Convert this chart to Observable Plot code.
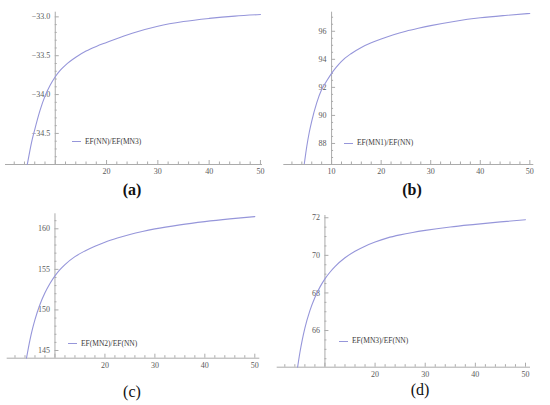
<!DOCTYPE html>
<html><head><meta charset="utf-8">
<script src="https://cdn.jsdelivr.net/npm/d3@7"></script>
<script src="https://cdn.jsdelivr.net/npm/@observablehq/plot@0.6"></script>
<style>
body{margin:0;background:#fff;}
#fig{position:relative;width:550px;height:405px;overflow:hidden;background:#fff;}
.cell{position:absolute;width:275px;height:202px;}
.cell svg{position:absolute;left:0;top:0;}
.cap{position:absolute;font-family:"Liberation Serif","Times New Roman","DejaVu Serif",serif;font-size:16px;color:#111;transform:translate(-50%,-50%);line-height:1;white-space:nowrap;}
.legline{position:absolute;width:9px;height:0;border-top:1px solid #9696da;}
.legtxt{position:absolute;font-family:"Liberation Serif","Times New Roman","DejaVu Serif",serif;font-size:7.5px;color:#3a3a3a;transform:translateY(-50%);line-height:1;white-space:nowrap;}
</style></head>
<body><div id="fig"></div>
<script>
// ---- data ----
const seriesNames = ["EF(NN)/EF(MN3)", "EF(MN1)/EF(NN)", "EF(MN2)/EF(NN)", "EF(MN3)/EF(NN)"];
const panelLabels = ["(a)", "(b)", "(c)", "(d)"];

const xA = [4.55, 5, 5.5, 6, 7, 8, 9, 10, 11, 12, 14, 16, 18, 20, 25, 30, 35, 40, 45, 50];
const yA = [-34.90, -34.74, -34.58, -34.45, -34.21, -34.02, -33.88, -33.77, -33.685, -33.62, -33.52, -33.44, -33.38, -33.33, -33.21, -33.12, -33.06, -33.02, -32.99, -32.97];

const xB = [4.5, 5, 5.5, 6, 7, 8, 9, 10, 11, 12, 14, 16, 18, 20, 22.5, 25, 27.5, 30, 35, 40, 45, 50];
const yB = [86.55, 87.8, 88.8, 89.6, 90.9, 91.85, 92.45, 93.0, 93.46, 93.86, 94.42, 94.85, 95.18, 95.45, 95.75, 96.0, 96.21, 96.40, 96.72, 96.96, 97.13, 97.27];

const xC = [4.3, 5, 5.5, 6, 7, 8, 9, 10, 11, 12, 14, 16, 18, 20, 22.5, 25, 27.5, 30, 35, 40, 45, 50];
const yC = [144.05, 146.32, 147.66, 148.81, 150.67, 152.11, 153.26, 154.2, 154.96, 155.59, 156.57, 157.27, 157.85, 158.35, 158.86, 159.30, 159.67, 159.99, 160.49, 160.89, 161.22, 161.5];

const xD = [4.55, 5, 5.5, 6, 7, 8, 9, 10, 11, 12, 14, 16, 18, 20, 22.5, 25, 27.5, 30, 35, 40, 45, 50];
const yD = [64.05, 64.82, 65.53, 66.13, 67.06, 67.76, 68.31, 68.75, 69.10, 69.40, 69.87, 70.22, 70.49, 70.71, 70.93, 71.09, 71.22, 71.33, 71.51, 71.65, 71.78, 71.89];

const yTicksA = [-34.5, -34.0, -33.5, -33.0];
const yTickLabelsA = ["\u221234.5", "\u221234.0", "\u221233.5", "\u221233.0"];
const yTicksB = [88, 90, 92, 94, 96];
const yTickLabelsB = ["88", "90", "92", "94", "96"];
const yTicksC = [145, 150, 155, 160];
const yTickLabelsC = ["145", "150", "155", "160"];
const yTicksD = [66, 68, 70, 72];
const yTickLabelsD = ["66", "68", "70", "72"];

const xTicksA = [20, 30, 40, 50];
const xTicksB = [10, 20, 30, 40, 50];
const xTicksC = [20, 30, 40, 50];
const xTicksD = [20, 30, 40, 50];

// ---- layout / style ----
const lineColor = "#9696da";
const axisColor = "#ababab";
const labelColor = "#5a5a5a";

const panels = [
  {left:0, top:0, h:180, mt:11.7, mb:16, ml:5, mr:13, xd:[0.3,50.4], yd:[-34.90,-32.94],
   x:xA, y:yA, yt:yTicksA, ytl:yTickLabelsA, xt:xTicksA, yMinorStep:0.1,
   leg:[72,141], cap:[132,190], bold:true},
  {left:275, top:0, h:180, mt:11.7, mb:16, ml:8.3, mr:16.7, xd:[0.36,50.8], yd:[86.50,97.36],
   x:xB, y:yB, yt:yTicksB, ytl:yTickLabelsB, xt:xTicksB, yMinorStep:0.5,
   leg:[69,142.5], cap:[137,190], bold:true},
  {left:0, top:200, h:175, mt:13.3, mb:17.3, ml:6.7, mr:15.7, xd:[0.44,51.0], yd:[144.05,161.85],
   x:xC, y:yC, yt:yTicksC, ytl:yTickLabelsC, xt:xTicksC, yMinorStep:1,
   leg:[68,143], cap:[132,191.5], bold:false},
  {left:275, top:200, h:183, mt:15, mb:16.3, ml:1.7, mr:20, xd:[0.48,51.0], yd:[64.05,72.12],
   x:xD, y:yD, yt:yTicksD, ytl:yTickLabelsD, xt:xTicksD, yMinorStep:0.5,
   leg:[64,140.5], cap:[145,190], bold:false}
];

const fig = document.getElementById("fig");
const W = 275;
const serif = "'Liberation Serif', 'Times New Roman', 'DejaVu Serif', serif";

panels.forEach((p, i) => {
  const cell = document.createElement("div");
  cell.className = "cell";
  cell.style.left = p.left + "px";
  cell.style.top = p.top + "px";
  fig.appendChild(cell);

  const innerW = W - p.ml - p.mr;
  const innerH = p.h - p.mt - p.mb;
  const dx1 = (p.xd[1] - p.xd[0]) / innerW; // data units per pixel
  const dy1 = (p.yd[1] - p.yd[0]) / innerH;
  const y0 = p.yd[0];
  const xAxisAt = 10;

  const data = p.x.map((xv, j) => ({x: xv, y: p.y[j]}));
  const xMinor = d3.range(2, 51, 2).filter(v => v > p.xd[0] && v < p.xd[1] && v % 10 !== 0);
  const xMajor = d3.range(10, 51, 10);
  const yMinor = d3.range(Math.ceil(p.yd[0] / p.yMinorStep) * p.yMinorStep, p.yd[1], p.yMinorStep)
    .map(v => +v.toFixed(3))
    .filter(v => !p.yt.some(t => Math.abs(t - v) < 1e-6));
  const yLab = p.yt.map((v, j) => ({v, t: p.ytl[j]}));

  const chart = Plot.plot({
    width: W, height: p.h,
    marginTop: p.mt, marginBottom: p.mb, marginLeft: p.ml, marginRight: p.mr,
    x: {domain: p.xd, axis: null},
    y: {domain: p.yd, axis: null},
    style: {background: "transparent", overflow: "visible", fontFamily: serif, fontSize: "8px", color: labelColor},
    marks: [
      Plot.ruleY([y0], {stroke: axisColor, strokeWidth: 1}),
      Plot.ruleX([xAxisAt], {stroke: axisColor, strokeWidth: 1}),
      // x ticks (pointing up)
      Plot.ruleX(xMinor, {x: d => d, y1: y0, y2: y0 + 2.5 * dy1, stroke: axisColor}),
      Plot.ruleX(xMajor, {x: d => d, y1: y0, y2: y0 + 4 * dy1, stroke: axisColor}),
      // y ticks (pointing right)
      Plot.ruleY(yMinor, {y: d => d, x1: xAxisAt, x2: xAxisAt + 2 * dx1, stroke: axisColor}),
      Plot.ruleY(p.yt, {y: d => d, x1: xAxisAt, x2: xAxisAt + 4 * dx1, stroke: axisColor}),
      // tick labels
      Plot.text(p.xt, {x: d => d, y: y0, text: d => String(d), dy: 7, fill: labelColor}),
      Plot.text(yLab, {x: xAxisAt, y: "v", text: "t", textAnchor: "end", dx: -5, fill: labelColor}),
      // curve
      Plot.line(data, {x: "x", y: "y", stroke: lineColor, strokeWidth: 1.1, curve: "monotone-x"})
    ]
  });
  cell.appendChild(chart);

  // legend inside the panel
  const ll = document.createElement("div");
  ll.className = "legline";
  ll.style.left = p.leg[0] + "px";
  ll.style.top = p.leg[1] + "px";
  cell.appendChild(ll);
  const lt = document.createElement("div");
  lt.className = "legtxt";
  lt.style.left = (p.leg[0] + 13) + "px";
  lt.style.top = (p.leg[1] + 0.5) + "px";
  lt.textContent = seriesNames[i];
  cell.appendChild(lt);

  // panel caption
  const cap = document.createElement("div");
  cap.className = "cap";
  cap.style.left = p.cap[0] + "px";
  cap.style.top = p.cap[1] + "px";
  cap.style.fontWeight = p.bold ? "bold" : "normal";
  cap.textContent = panelLabels[i];
  cell.appendChild(cap);
});
</script>
</body></html>
